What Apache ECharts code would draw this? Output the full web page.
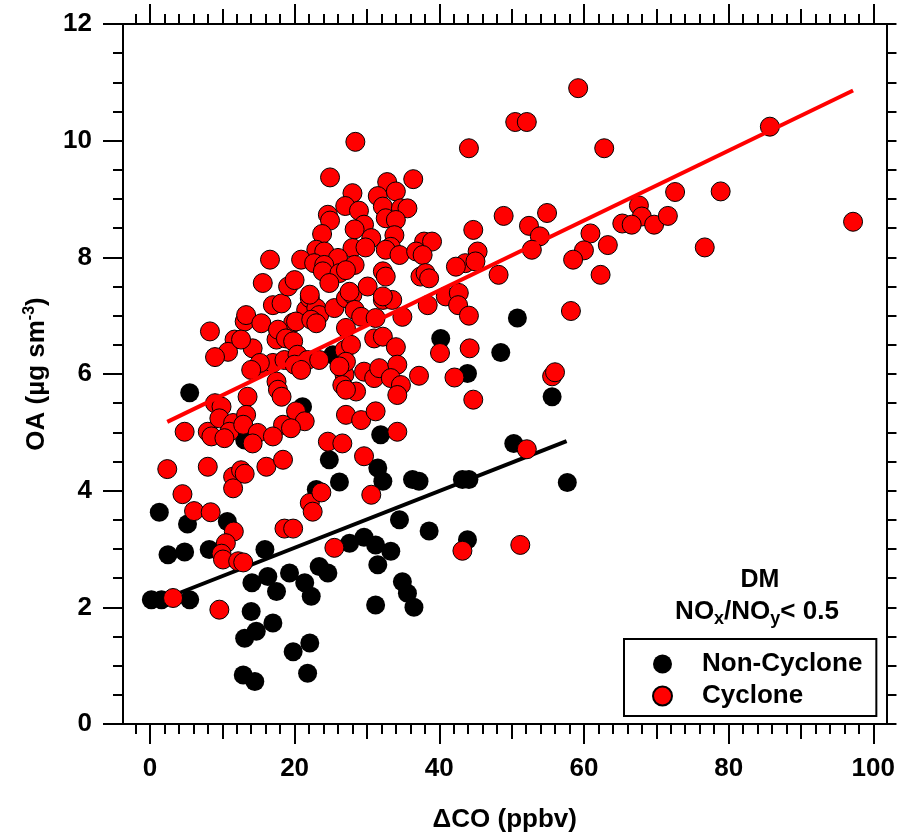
<!DOCTYPE html>
<html lang="en">
<head>
<meta charset="UTF-8">
<title>OA vs ΔCO - DM</title>
<script src="https://cdn.jsdelivr.net/npm/echarts@6/dist/echarts.min.js"></script>
<style>html,body{margin:0;padding:0;background:#fff;}</style>
</head>
<body>
<div id="main" style="width:898px;height:838px"></div>
<script>
// Non-Cyclone points [dCO, OA]
const nonCyclone = [
  [0.2,2.13],[1.6,2.13],[5.5,2.13],[1.3,3.63],[5.2,3.43],[2.5,2.90],[4.8,2.95],[8.2,2.99],[10.7,3.47],[15.9,2.99],
  [14.1,2.42],[16.3,2.53],[17.5,2.27],[19.3,2.59],[21.4,2.42],[22.3,2.19],[23.4,2.70],[24.6,2.59],[14.0,1.93],[13.1,1.47],
  [14.7,1.59],[17.0,1.73],[12.9,0.84],[14.5,0.73],[19.8,1.24],[22.1,1.39],[21.8,0.87],[24.8,4.53],[26.2,4.15],[23.0,4.02],
  [31.5,4.39],[32.2,4.16],[36.3,4.19],[37.2,4.16],[34.5,3.50],[38.6,3.31],[27.6,3.10],[29.6,3.20],[31.2,3.07],[33.3,2.96],
  [31.5,2.73],[34.9,2.44],[35.6,2.24],[36.5,2.00],[31.2,2.04],[5.5,5.68],[40.2,6.61],[25.3,6.33],[21.1,5.44],[13.1,4.87],
  [31.9,4.96],[50.8,6.96],[48.5,6.37],[43.9,6.01],[55.6,5.61],[50.3,4.81],[57.7,4.14],[43.2,4.19],[44.1,4.19],[43.9,3.16]
];

// Cyclone points [dCO, OA]
const cyclone = [
  [2.4,4.37],[8.0,4.41],[11.5,4.24],[12.6,4.35],[13.1,4.29],[11.5,4.04],[16.1,4.41],[18.4,4.53],[29.6,4.59],[30.6,3.93],
  [4.5,3.94],[6.1,3.65],[8.4,3.63],[11.6,3.30],[10.5,3.10],[9.9,2.92],[10.1,2.82],[12.2,2.79],[12.9,2.77],[3.2,2.16],
  [9.6,1.96],[22.1,3.79],[22.5,3.64],[23.7,3.97],[18.6,3.35],[19.8,3.35],[25.5,3.02],
  [8.3,6.73],[11.7,6.59],[10.8,6.38],[9.0,6.29],[4.8,5.01],[8.0,5.01],[8.5,4.93],[9.0,5.50],[9.9,5.44],[9.6,5.24],
  [11.5,5.16],[11.0,5.01],[10.3,4.90],[13.1,6.90],[15.6,6.13],[17.5,6.59],[21.6,7.10],[19.8,6.88],[26.9,5.99],
  [13.3,7.01],[15.4,6.87],[17.0,7.18],[18.2,7.21],[22.1,7.30],[23.0,7.13],[23.4,7.01],[25.5,7.13],[27.1,7.30],[28.0,7.36],
  [28.3,7.10],[29.2,6.98],[31.2,6.96],[32.2,7.27],[33.5,7.27],[34.9,6.98],[38.4,7.18],[17.7,6.76],[20.2,6.90],[18.8,6.61],
  [19.8,6.56],[22.3,6.93],[23.0,6.87],[27.1,6.79],[14.2,6.44],[12.6,6.59],[17.0,6.19],[18.6,6.24],[20.4,6.33],[20.0,6.16],
  [15.2,6.19],[14.0,6.07],[21.8,6.24],[23.4,6.24],[20.9,6.07],[26.9,6.41],[27.8,6.50],[27.1,6.21],[26.2,6.13],[31.0,6.61],
  [32.2,6.64],[34.0,6.46],[29.6,6.04],[31.0,5.93],[31.7,6.10],[34.2,6.16],[33.3,5.93],[34.7,5.81],[37.2,5.97],[26.6,5.81],
  [28.5,5.70],[27.1,5.73],[34.2,5.64],[17.5,5.87],[17.7,5.73],[18.2,5.61],[13.5,5.61],[13.3,5.30],[12.9,5.13],[20.2,5.36],
  [21.4,5.19],[18.4,5.13],[19.5,5.07],[14.9,4.99],[17.0,4.93],[14.2,4.81],[27.1,5.30],[29.2,5.21],[31.2,5.36],[34.2,5.01],
  [24.6,4.84],[26.6,4.81],
  [28.4,9.98],[24.9,9.37],[32.8,9.29],[36.4,9.34],[28.0,9.10],[31.5,9.05],[34.0,9.13],[27.0,8.88],[28.9,8.80],[32.2,8.87],
  [34.7,8.84],[35.6,8.84],[24.6,8.73],[24.9,8.63],[32.6,8.67],[34.0,8.64],[29.6,8.56],[28.3,8.48],[23.8,8.40],[30.6,8.33],
  [33.8,8.38],[37.9,8.27],[39.0,8.27],[28.0,8.16],[29.8,8.17],[33.3,8.18],[32.6,8.13],[34.5,8.04],[36.8,8.10],[37.7,8.04],
  [23.0,8.13],[24.1,8.10],[16.6,7.96],[20.9,7.96],[26.0,7.99],[28.3,7.87],[22.7,7.90],[24.1,7.87],[23.9,7.76],[26.2,7.73],
  [27.1,7.78],[32.2,7.76],[32.6,7.67],[37.4,7.67],[38.1,7.73],[15.6,7.56],[19.1,7.50],[20.0,7.61],[24.8,7.56],[27.6,7.41],
  [30.1,7.50],[32.2,7.33],[22.1,7.36],
  [59.2,10.90],[50.5,10.32],[52.1,10.32],[44.1,9.87],[62.8,9.87],[85.7,10.24],[72.6,9.12],[78.9,9.13],[97.2,8.61],[67.6,8.89],
  [68.0,8.70],[65.3,8.58],[66.6,8.56],[69.7,8.56],[71.6,8.71],[76.7,8.17],[48.9,8.71],[54.9,8.76],[44.7,8.47],[52.4,8.54],
  [53.9,8.36],[52.8,8.13],[60.9,8.41],[60.0,8.12],[63.3,8.21],[58.5,7.96],[62.3,7.70],[58.2,7.08],[45.3,8.10],[43.6,7.90],
  [45.0,7.93],[42.3,7.84],[48.2,7.70],[38.6,7.64],[40.9,7.33],[42.7,7.39],[42.6,7.18],[44.1,7.00],[44.2,6.44],[40.1,6.36],
  [42.1,5.94],[44.7,5.56],[55.6,5.96],[56.0,6.03],[52.1,4.71],[43.2,2.97],[51.2,3.07]
];

// fitted lines (end points)
const nonCycloneFit = [[2.3,2.16],[57.6,4.85]];
const cycloneFit = [[2.4,5.18],[97.2,10.86]];

const xTickLabels = [0,20,40,60,80,100];
const yTickLabels = [0,2,4,6,8,10,12];

const X_MIN = -3.72, X_MAX = 101.82;
const FONT = 'Liberation Sans, Arial, sans-serif';

const xMinor = [];
for (let v = -2; v <= 100; v += 2) xMinor.push(v);
const xMid = [10,30,50,70,90];
const yMinor = [];
for (let v = 0; v <= 12; v += 0.5) yMinor.push(v);

const labelStyle = { fontSize: 26, fontWeight: 'bold', color: '#000', fontFamily: FONT };

function xAx(pos, ticks, len, showLine, labels) {
  return {
    type: 'value', position: pos, min: X_MIN, max: X_MAX,
    axisLine: { show: showLine, onZero: false, lineStyle: { color: '#000', width: 2 } },
    axisTick: { show: true, customValues: ticks, length: len, lineStyle: { color: '#000', width: 2 } },
    axisLabel: labels ? Object.assign({ customValues: labels, margin: 32 }, labelStyle) : { show: false },
    splitLine: { show: false }
  };
}
function yAx(pos, ticks, len, showLine, labels) {
  return {
    type: 'value', position: pos, min: 0, max: 12,
    axisLine: { show: showLine, onZero: false, lineStyle: { color: '#000', width: 2 } },
    axisTick: { show: true, customValues: ticks, length: len, lineStyle: { color: '#000', width: 2 } },
    axisLabel: labels ? Object.assign({ customValues: labels, margin: 31 }, labelStyle) : { show: false },
    splitLine: { show: false }
  };
}

const xAxes = [
  xAx('bottom', xMinor, 10, true, xTickLabels),
  xAx('bottom', xMid, 15, false),
  xAx('bottom', xTickLabels, 20, false),
  xAx('top', xMinor, 10, true),
  xAx('top', xMid, 15, false),
  xAx('top', xTickLabels, 20, false)
];
xAxes[0].name = 'ΔCO (ppbv)';
xAxes[0].nameLocation = 'middle';
xAxes[0].nameGap = 83;
xAxes[0].nameTextStyle = { fontSize: 26, fontWeight: 'bold', color: '#000', fontFamily: FONT };

const yAxes = [
  yAx('left', yMinor, 10, true, yTickLabels),
  yAx('left', yTickLabels, 20, false),
  yAx('right', yMinor, 10, true)
];
yAxes[0].name = 'OA (µg sm{sup|-3})';
yAxes[0].nameLocation = 'middle';
yAxes[0].nameGap = 71;
yAxes[0].nameTextStyle = {
  fontSize: 26, fontWeight: 'bold', color: '#000', fontFamily: FONT,
  rich: { sup: { fontSize: 16, fontWeight: 'bold', fontFamily: FONT, color: '#000', padding: [0, 0, 14, 0] } }
};

const chart = echarts.init(document.getElementById('main'));
chart.setOption({
  animation: false,
  backgroundColor: '#fff',
  grid: { left: 123, top: 24, width: 766, height: 700 },
  xAxis: xAxes,
  yAxis: yAxes,
  legend: {
    orient: 'vertical', left: 624, top: 639,
    data: ['Non-Cyclone', 'Cyclone'],
    icon: 'circle', itemWidth: 19, itemHeight: 19, itemGap: 6,
    padding: [12, 14, 7, 28],
    borderColor: '#000', borderWidth: 2, borderRadius: 0,
    textStyle: { fontSize: 26, fontWeight: 'bold', color: '#000', fontFamily: FONT, lineHeight: 19, padding: [0, 0, 0, 25] }
  },
  graphic: [
    { type: 'text', x: 760, y: 580,
      style: { text: 'DM', fontSize: 25, fontWeight: 'bold', fontFamily: FONT, fill: '#000', align: 'center', verticalAlign: 'middle' } },
    { type: 'text', x: 757, y: 612,
      style: { text: 'NO{s|x}/NO{s|y}< 0.5', fontSize: 26, fontWeight: 'bold', fontFamily: FONT, fill: '#000',
        align: 'center', verticalAlign: 'middle',
        rich: { s: { fontSize: 18, fontWeight: 'bold', fontFamily: FONT, fill: '#000', padding: [14, 0, 0, 0] } } } }
  ],
  series: [
    { name: 'Non-Cyclone', type: 'scatter', data: nonCyclone, symbol: 'circle', symbolSize: 19,
      itemStyle: { color: '#000', opacity: 1 }, z: 2 },
    { name: 'fitNon', type: 'line', data: nonCycloneFit, showSymbol: false, silent: true,
      lineStyle: { color: '#000', width: 4 }, z: 3 },
    { name: 'Cyclone', type: 'scatter', data: cyclone, symbol: 'circle', symbolSize: 19,
      itemStyle: { color: '#ff0000', borderColor: '#000', borderWidth: 1, opacity: 1 }, z: 4 },
    { name: 'fitCyc', type: 'line', data: cycloneFit, showSymbol: false, silent: true,
      lineStyle: { color: '#ff0000', width: 4 }, z: 5 }
  ]
});
</script>
</body>
</html>
